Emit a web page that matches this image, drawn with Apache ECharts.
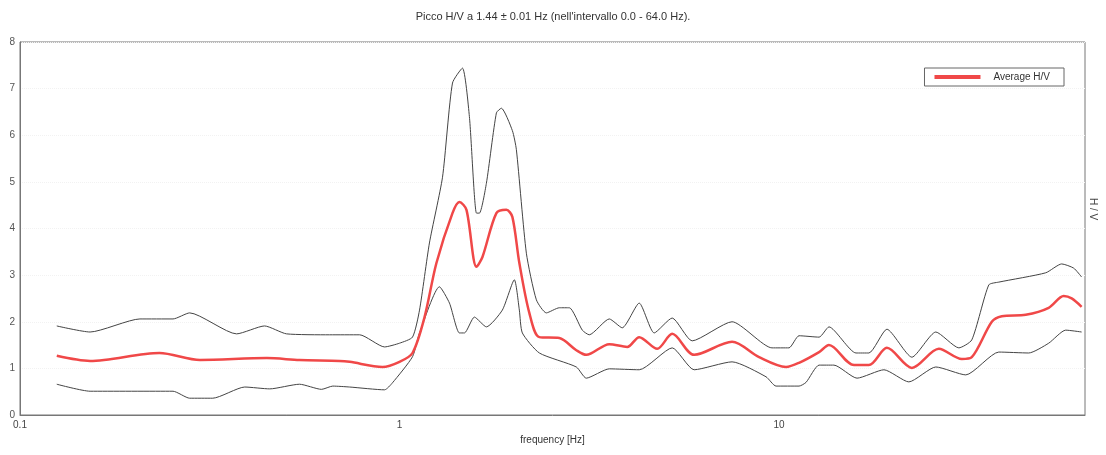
<!DOCTYPE html>
<html>
<head>
<meta charset="utf-8">
<script src="https://cdn.jsdelivr.net/npm/echarts@6/dist/echarts.min.js"></script>
<style>html,body{margin:0;padding:0;background:#fff;}#c{width:1106px;height:455px;}</style>
</head>
<body>
<div id="c"></div>
<script>
const titleText = "Picco H/V a 1.44 \u00b1 0.01 Hz (nell'intervallo 0.0 - 64.0 Hz).";
const yTicks = [0,1,2,3,4,5,6,7,8];

const freqAvg = [0.125,0.153,0.233,0.298,0.447,0.545,0.695,0.739,0.902,1.0,1.082,1.164,1.251,1.379,1.438,1.501,1.595,1.654,1.800,1.912,1.983,2.069,2.198,2.336,2.637,2.923,3.105,3.570,3.981,4.281,4.776,5.230,5.975,7.52,8.86,10.43,11.29,12.75,13.54,15.76,17.25,19.24,22.39,26.37,30.31,32.2,36.36,38.63,44.67,51.35,56.23,59.03,62.7];
const avgHV   = [1.27,1.16,1.33,1.18,1.22,1.18,1.16,1.14,1.03,1.14,1.33,2.1,3.26,4.33,4.57,4.4,3.18,3.39,4.33,4.4,4.25,3.26,2.19,1.67,1.65,1.39,1.29,1.52,1.46,1.67,1.42,1.74,1.29,1.57,1.24,1.03,1.12,1.35,1.5,1.07,1.07,1.44,1.01,1.42,1.2,1.24,2.0,2.12,2.15,2.3,2.55,2.5,2.32];

const freqUp = [0.125,0.153,0.207,0.253,0.280,0.372,0.441,0.504,0.654,0.785,0.913,1.0,1.082,1.129,1.199,1.298,1.379,1.465,1.528,1.595,1.624,1.694,1.800,1.855,1.983,2.032,2.159,2.294,2.437,2.637,2.802,3.031,3.162,3.570,3.862,4.281,4.689,5.230,5.903,7.52,9.58,10.62,11.29,12.75,13.54,15.95,17.25,19.24,22.39,25.89,29.77,32.2,35.7,37.93,50.43,55.55,59.76,62.7];
const upHV   = [1.91,1.78,2.06,2.06,2.19,1.74,1.91,1.74,1.72,1.72,1.46,1.54,1.67,2.25,3.69,5.1,7.12,7.44,6.4,4.33,4.33,4.97,6.48,6.58,6.1,5.69,3.47,2.47,2.19,2.3,2.3,1.82,1.72,2.06,1.87,2.4,1.76,2.08,1.59,2.0,1.44,1.44,1.7,1.67,1.89,1.33,1.33,1.84,1.24,1.78,1.44,1.61,2.79,2.85,3.05,3.24,3.15,2.96];

const freqLow = [0.125,0.153,0.253,0.280,0.322,0.391,0.455,0.545,0.623,0.667,0.739,0.913,0.958,1.082,1.129,1.274,1.354,1.438,1.483,1.575,1.694,1.866,2.007,2.069,2.107,2.336,2.923,3.105,3.570,4.281,5.230,5.975,7.52,9.24,9.82,11.29,11.78,12.75,13.95,16.05,18.9,21.98,25.89,31.05,37.93,45.49,51.35,56.92,62.7];
const lowHV   = [0.66,0.51,0.51,0.36,0.36,0.6,0.56,0.66,0.55,0.62,0.6,0.54,0.69,1.25,1.76,2.75,2.4,1.76,1.76,2.1,1.89,2.25,2.9,2.25,1.76,1.33,1.03,0.79,0.99,0.97,1.44,0.97,1.14,0.82,0.62,0.62,0.7,1.07,1.07,0.79,0.97,0.71,1.03,0.86,1.35,1.33,1.54,1.82,1.78];

const pairs = (f, v) => f.map((x, i) => [x, v[i]]);
const font = 'Liberation Sans, Arial, sans-serif';

const chart = echarts.init(document.getElementById('c'), null, {renderer: 'canvas'});
chart.setOption({
  animation: false,
  backgroundColor: '#fff',
  title: {
    text: titleText, left: 'center', top: 6,
    textStyle: {fontFamily: font, fontSize: 11, fontWeight: 'normal', color: '#333'}
  },
  legend: {
    right: 42, top: 68, orient: 'horizontal',
    data: ['Average H/V'],
    itemWidth: 46, itemHeight: 4, itemGap: 10,
    padding: [4, 14, 4, 10],
    borderColor: '#666', borderWidth: 1,
    backgroundColor: '#fff',
    textStyle: {fontFamily: font, fontSize: 10, color: '#333', padding: [0, 0, 0, 8]},
    icon: 'rect'
  },
  grid: {left: 20, right: 21, top: 42, bottom: 40, show: true, borderColor: '#777', borderWidth: 1},
  xAxis: {
    type: 'log', logBase: 10, min: 0.1, max: 64,
    name: 'frequency [Hz]', nameLocation: 'middle', nameGap: 17,
    nameTextStyle: {fontFamily: font, fontSize: 10, color: '#333'},
    axisLine: {show: true, lineStyle: {color: '#777'}},
    axisTick: {show: false},
    splitLine: {show: false},
    minorTick: {show: false},
    axisLabel: {fontFamily: font, fontSize: 10, color: '#444', margin: 5, showMaxLabel: false,
      formatter: v => (Math.abs(Math.log10(v) - Math.round(Math.log10(v))) < 1e-6) ? String(v) : ''}
  },
  yAxis: {
    type: 'value', min: yTicks[0], max: yTicks[yTicks.length-1], interval: 1,
    axisLine: {show: true, lineStyle: {color: '#777'}},
    axisTick: {show: false},
    splitLine: {show: true, lineStyle: {color: '#f2f2f2', type: 'dotted'}},
    axisLabel: {fontFamily: font, fontSize: 10, color: '#555', margin: 5}
  },
  series: [
    {name: 'Upper', type: 'line', data: pairs(freqUp, upHV), showSymbol: false, smooth: 0.2,
      lineStyle: {color: '#444', width: 1}, silent: true, z: 2},
    {name: 'Lower', type: 'line', data: pairs(freqLow, lowHV), showSymbol: false, smooth: 0.2,
      lineStyle: {color: '#444', width: 1}, silent: true, z: 2},
    {name: 'Average H/V', type: 'line', data: pairs(freqAvg, avgHV), showSymbol: false, smooth: 0.3,
      itemStyle: {color: '#f04848'},
      lineStyle: {color: '#f04848', width: 2.5}, z: 3}
  ],
  graphic: [
    {type: 'text', left: 1088, top: 198, rotation: -Math.PI/2,
      style: {text: 'H / V', fontFamily: font, fontSize: 10, fill: '#444'}}
  ]
});
</script>
</body>
</html>
